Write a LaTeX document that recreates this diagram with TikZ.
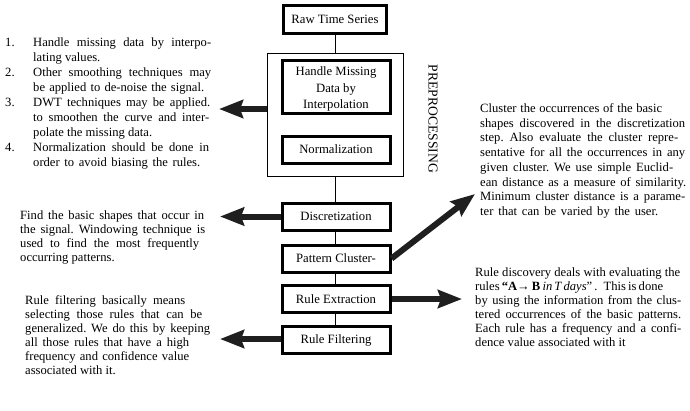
\documentclass[tikz,border=0pt]{standalone}
\usepackage{fontspec}
\setmainfont{Liberation Serif}
\usetikzlibrary{arrows.meta}
\newcommand\lnfit[2]{\makebox[#1pt][s]{#2}}
\frenchspacing
\begin{document}
\begin{tikzpicture}[x=1pt,y=-1pt,
  stepbox/.style={draw=black,line width=3pt,rectangle,inner sep=0pt,minimum width=108pt,minimum height=27pt,font=\fontsize{12.7}{16}\selectfont,align=center},
  groupbox/.style={draw=black,line width=1pt,rectangle,inner sep=0pt},
  conn/.style={draw=black,line width=1pt},
  bigarrow/.style={draw=black!88,line width=6pt,-{Stealth[length=24pt,width=18pt,inset=3pt]}},
  note/.style={anchor=north west,inner sep=0pt,align=left},
]
\useasboundingbox (0,0) rectangle (690,410);
% boxes
\node[stepbox,minimum width=103pt,minimum height=28pt] (raw) at (335,19) {Raw Time Series};
\node[groupbox,minimum width=136pt,minimum height=123pt] (pre) at (335,114.5) {};
\node[stepbox,minimum height=53pt] (handle) at (336,86.5) {};
\node[font=\fontsize{12.7}{16.5}\selectfont,align=center,inner sep=0pt] (handletext) at (336,89) {Handle Missing\\Data by\\Interpolation};
\node[stepbox] (norm) at (336,149.5) {Normalization};
\node[stepbox] (disc) at (336,216.5) {Discretization};
\node[stepbox] (pat) at (336,258.5) {Pattern Cluster-};
\node[stepbox] (rext) at (336,299) {Rule Extraction};
\node[stepbox] (rfil) at (336,340) {Rule Filtering};
\node[rotate=-90,font=\fontsize{13.6}{14}\selectfont,inner sep=0pt] (prelabel) at (433,119) {PREPROCESSING};
% vertical connectors
\draw[conn] (raw.south) -- (pre.north);
\draw[conn] (pre.south) -- (disc.north -| pre.south);
\draw[conn] (disc.south -| pre.south) -- (pat.north -| pre.south);
\draw[conn] (pat.south -| pre.south) -- (rext.north -| pre.south);
\draw[conn] (rext.south -| pre.south) -- (rfil.north -| pre.south);
% arrow ends
\coordinate (a1) at (219,109);
\coordinate (a2) at (220,216.5);
\coordinate (a3) at (475,194);
\coordinate (a4) at (462,299);
\coordinate (a5) at (220,339);
\draw[bigarrow] (pre.west |- a1) -- (a1);
\draw[bigarrow] (disc.west) -- (a2);
\draw[bigarrow] (pat.east) -- (a3);
\draw[bigarrow] (rext.east) -- (a4);
\draw[bigarrow] (rfil.west |- a5) -- (a5);
% notes
\node[note,font=\fontsize{12.6}{15}\selectfont] (list) at (5,37.5) {%
\makebox[28pt][l]{1.}\lnfit{178}{Handle missing data by interpo-}\\
\hspace*{28pt}lating values.\\
\makebox[28pt][l]{2.}\lnfit{178}{Other smoothing techniques may}\\
\hspace*{28pt}\lnfit{171}{be applied to de-noise the signal.}\\
\makebox[28pt][l]{3.}\lnfit{177}{DWT techniques may be applied.}\\
\hspace*{28pt}\lnfit{176}{to smoothen the curve and inter-}\\
\hspace*{28pt}polate the missing data.\\
\makebox[28pt][l]{4.}\lnfit{176}{Normalization should be done in}\\
\hspace*{28pt}\lnfit{167}{order to avoid biasing the rules.}};
\node[note,font=\fontsize{12.6}{14.7}\selectfont] (cluster) at (480,103.5) {%
\lnfit{182}{Cluster the occurrences of the basic}\\
\lnfit{205}{shapes discovered in the discretization}\\
\lnfit{198}{step. Also evaluate the cluster repre-}\\
\lnfit{205}{sentative for all the occurrences in any}\\
\lnfit{193}{given cluster. We use simple Euclid-}\\
\lnfit{206}{ean distance as a measure of similarity.}\\
\lnfit{205}{Minimum cluster distance is a parame-}\\
\lnfit{178}{ter that can be varied by the user.}};
\node[note,font=\fontsize{12.6}{14}\selectfont] (find) at (20,210.5) {%
\lnfit{184}{Find the basic shapes that occur in}\\
\lnfit{185}{the signal. Windowing technique is}\\
\lnfit{179}{used to find the most frequently}\\
occurring patterns.};
\node[note,font=\fontsize{12.6}{14}\selectfont] (filter) at (25,295.5) {%
\lnfit{160}{Rule filtering basically means}\\
\lnfit{177}{selecting those rules that can be}\\
\lnfit{185}{generalized. We do this by keeping}\\
\lnfit{164}{all those rules that have a high}\\
\lnfit{164}{frequency and confidence value}\\
associated with it.};
\node[note,font=\fontsize{12.6}{14}\selectfont] (disco) at (475,267.5) {%
\lnfit{205}{Rule discovery deals with evaluating the}\\
\lnfit{188}{rules \textbf{“A→ B} \textit{in T days}” .\hspace{6pt}This is done}\\
\lnfit{206}{by using the information from the clus-}\\
\lnfit{206}{tered occurrences of the basic patterns.}\\
\lnfit{206}{Each rule has a frequency and a confi-}\\
dence value associated with it};
\end{tikzpicture}
\end{document}
